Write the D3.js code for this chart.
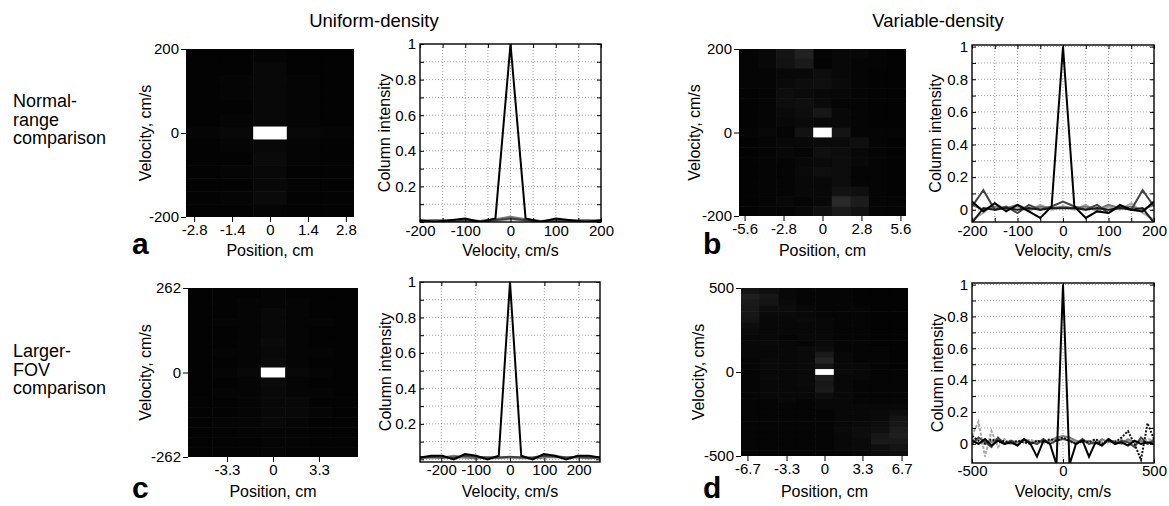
<!DOCTYPE html>
<html><head><meta charset="utf-8">
<script src="https://cdn.jsdelivr.net/npm/d3@7"></script>
<style>
body{margin:0;background:#fff;}
svg{font-family:"Liberation Sans",Arial,Helvetica,sans-serif;}
</style></head><body>
<svg id="fig" width="1169" height="506"></svg>
<script>
// ---------------- DATA ----------------
const headings = ["Uniform-density", "Variable-density"];
const rowLabelsTop = ["Normal-", "range", "comparison"];
const rowLabelsBottom = ["Larger-", "FOV", "comparison"];
const panelLetters = ["a", "b", "c", "d"];

// image tick labels
const imgAXTicks = [-2.8, -1.4, 0, 1.4, 2.8];
const imgAYTicks = [-200, 0, 200];
const imgBXTicks = [-5.6, -2.8, 0, 2.8, 5.6];
const imgBYTicks = [-200, 0, 200];
const imgCXTicks = [-3.3, 0, 3.3];
const imgCYTicks = [-262, 0, 262];
const imgDXTicks = [-6.7, -3.3, 0, 3.3, 6.7];
const imgDYTicks = [-500, 0, 500];

// image intensities (rows: top = +velocity)
const imgA = [
 [0.01,0.01,0.02,0.01,0.01],
 [0.01,0.01,0.03,0.01,0.01],
 [0.01,0.02,0.03,0.02,0.01],
 [0.01,0.02,0.03,0.02,0.01],
 [0.01,0.01,0.03,0.02,0.01],
 [0.01,0.02,0.03,0.02,0.01],
 [0.02,0.03,1.00,0.03,0.02],
 [0.01,0.02,0.03,0.02,0.01],
 [0.01,0.01,0.04,0.02,0.01],
 [0.01,0.02,0.03,0.01,0.01],
 [0.01,0.01,0.03,0.02,0.01],
 [0.01,0.02,0.04,0.01,0.01],
 [0.01,0.01,0.02,0.01,0.01]];
const imgB = [
 [0.02,0.03,0.08,0.13,0.02,0.03,0.03,0.02,0.01],
 [0.02,0.03,0.07,0.10,0.01,0.03,0.02,0.02,0.01],
 [0.02,0.02,0.03,0.03,0.05,0.03,0.02,0.01,0.01],
 [0.02,0.02,0.04,0.05,0.06,0.04,0.02,0.01,0.01],
 [0.01,0.02,0.05,0.04,0.03,0.03,0.02,0.01,0.01],
 [0.01,0.02,0.05,0.06,0.04,0.02,0.02,0.01,0.01],
 [0.01,0.02,0.04,0.05,0.09,0.03,0.02,0.01,0.01],
 [0.01,0.02,0.03,0.04,0.03,0.03,0.02,0.01,0.01],
 [0.02,0.03,0.02,0.07,1.00,0.08,0.02,0.02,0.02],
 [0.01,0.02,0.03,0.03,0.04,0.04,0.06,0.02,0.01],
 [0.01,0.02,0.03,0.02,0.06,0.05,0.03,0.02,0.01],
 [0.01,0.02,0.02,0.03,0.04,0.05,0.03,0.02,0.01],
 [0.01,0.02,0.02,0.04,0.06,0.05,0.02,0.02,0.01],
 [0.01,0.02,0.02,0.03,0.03,0.05,0.02,0.02,0.01],
 [0.01,0.02,0.02,0.03,0.03,0.07,0.06,0.02,0.01],
 [0.01,0.02,0.03,0.02,0.03,0.16,0.11,0.02,0.02],
 [0.01,0.02,0.02,0.03,0.06,0.10,0.07,0.02,0.02]];
const imgC = [
 [0.01,0.01,0.01,0.02,0.01,0.01,0.01],
 [0.01,0.01,0.02,0.02,0.02,0.01,0.01],
 [0.01,0.01,0.02,0.03,0.02,0.01,0.01],
 [0.01,0.02,0.02,0.03,0.02,0.02,0.01],
 [0.01,0.01,0.02,0.03,0.02,0.01,0.01],
 [0.01,0.01,0.02,0.04,0.02,0.01,0.01],
 [0.01,0.02,0.02,0.03,0.02,0.02,0.01],
 [0.01,0.01,0.02,0.04,0.02,0.01,0.01],
 [0.01,0.02,0.03,1.00,0.03,0.02,0.01],
 [0.01,0.01,0.02,0.04,0.02,0.01,0.01],
 [0.01,0.02,0.02,0.03,0.02,0.02,0.01],
 [0.01,0.01,0.02,0.03,0.03,0.01,0.01],
 [0.01,0.01,0.02,0.03,0.03,0.02,0.01],
 [0.01,0.02,0.02,0.03,0.02,0.01,0.01],
 [0.01,0.01,0.02,0.02,0.02,0.01,0.01],
 [0.01,0.01,0.01,0.02,0.02,0.01,0.01],
 [0.01,0.01,0.01,0.02,0.01,0.01,0.01]];
const imgD = [
 [0.08,0.06,0.03,0.02,0.02,0.02,0.01,0.01,0.01],
 [0.12,0.09,0.03,0.02,0.02,0.02,0.01,0.01,0.01],
 [0.10,0.08,0.04,0.02,0.02,0.02,0.01,0.01,0.01],
 [0.09,0.05,0.05,0.03,0.02,0.02,0.02,0.01,0.01],
 [0.09,0.04,0.04,0.03,0.02,0.02,0.02,0.01,0.01],
 [0.08,0.03,0.03,0.04,0.03,0.02,0.02,0.01,0.01],
 [0.05,0.03,0.03,0.03,0.03,0.02,0.02,0.01,0.01],
 [0.04,0.03,0.03,0.03,0.03,0.02,0.02,0.01,0.01],
 [0.03,0.03,0.02,0.03,0.03,0.02,0.02,0.01,0.01],
 [0.03,0.04,0.03,0.02,0.04,0.02,0.02,0.01,0.01],
 [0.03,0.03,0.03,0.04,0.05,0.02,0.02,0.02,0.01],
 [0.03,0.03,0.03,0.04,0.10,0.03,0.02,0.02,0.01],
 [0.02,0.04,0.03,0.04,0.14,0.03,0.02,0.02,0.01],
 [0.02,0.04,0.03,0.04,0.08,0.03,0.03,0.02,0.01],
 [0.02,0.03,0.03,0.04,1.00,0.04,0.03,0.02,0.02],
 [0.02,0.04,0.03,0.04,0.11,0.03,0.03,0.02,0.02],
 [0.02,0.03,0.03,0.04,0.09,0.03,0.02,0.02,0.02],
 [0.02,0.03,0.03,0.03,0.10,0.03,0.02,0.02,0.02],
 [0.02,0.03,0.03,0.03,0.05,0.03,0.02,0.02,0.02],
 [0.02,0.02,0.03,0.02,0.03,0.03,0.02,0.02,0.02],
 [0.02,0.02,0.02,0.02,0.03,0.03,0.03,0.03,0.03],
 [0.02,0.02,0.02,0.02,0.02,0.03,0.03,0.04,0.05],
 [0.02,0.02,0.02,0.02,0.02,0.03,0.03,0.04,0.08],
 [0.02,0.02,0.02,0.02,0.02,0.03,0.04,0.05,0.09],
 [0.02,0.02,0.02,0.02,0.02,0.04,0.05,0.06,0.11],
 [0.02,0.02,0.02,0.02,0.02,0.03,0.05,0.09,0.12],
 [0.02,0.02,0.02,0.02,0.02,0.03,0.04,0.10,0.10],
 [0.02,0.02,0.02,0.02,0.02,0.03,0.04,0.06,0.08],
 [0.02,0.02,0.02,0.02,0.02,0.02,0.03,0.05,0.06]];

// column-intensity profiles
const velA = [-200,-166.7,-133.3,-100,-66.7,-33.3,0,33.3,66.7,100,133.3,166.7,200];
const profA1 = [0.01,0.00,0.01,0.02,0.00,0.02,1.00,0.02,0.00,0.02,0.01,0.00,0.01];
const profA2 = [0.005,0.01,0.005,0.01,0.005,0.01,0.02,0.01,0.005,0.01,0.005,0.01,0.005];
const profA3 = [0.01,0.005,0.01,0.005,0.005,0.015,0.03,0.015,0.005,0.005,0.01,0.005,0.01];
const profA4 = [0.005,0.005,0.01,0.01,0.005,0.005,0.015,0.005,0.005,0.01,0.01,0.005,0.005];

const velB = [-200,-175,-150,-125,-100,-75,-50,-25,0,25,50,75,100,125,150,175,200];
const profB1 = [0.05,-0.01,0.04,-0.01,0.03,-0.01,-0.05,0.02,1.00,0.02,-0.05,-0.01,-0.02,0.03,0.00,-0.01,0.05];
const profB2 = [0.02,0.12,0.00,0.02,-0.02,0.03,0.00,0.02,0.05,0.02,0.00,0.03,-0.02,0.02,0.00,0.12,0.02];
const profB3 = [0.03,0.00,0.02,0.01,0.03,0.00,0.02,0.01,0.02,0.01,0.02,0.00,0.03,0.01,0.02,0.00,0.03];
const profB4 = [-0.06,-0.02,0.04,0.00,0.02,-0.01,0.03,0.00,0.02,0.00,0.03,-0.01,0.02,0.00,0.04,-0.02,-0.06];
const profB5 = [-0.08,0.01,0.00,0.01,0.00,0.01,0.00,0.01,0.01,0.01,0.00,0.01,0.00,0.01,0.00,0.01,-0.08];

const velC = [-262,-229.25,-196.5,-163.75,-131,-98.25,-65.5,-32.75,0,32.75,65.5,98.25,131,163.75,196.5,229.25,262];
const profC1 = [0.01,0.02,0.02,0.00,0.03,0.02,0.00,0.02,1.00,0.02,0.00,0.03,0.02,0.00,0.02,0.02,0.01];
const profC2 = [0.01,0.015,0.01,0.01,0.02,0.015,0.01,0.01,0.015,0.01,0.01,0.02,0.015,0.01,0.015,0.01,0.01];
const profC3 = [0.005,0.01,0.01,0.02,0.01,0.005,0.01,0.01,0.01,0.01,0.005,0.01,0.02,0.01,0.01,0.005,0.01];
const profC4 = [0.01,0.005,0.01,0.005,0.01,0.01,0.005,0.005,0.01,0.005,0.005,0.01,0.01,0.005,0.01,0.01,0.005];

const velD = [-500,-464.3,-428.6,-392.9,-357.1,-321.4,-285.7,-250,-214.3,-178.6,-142.9,-107.1,-71.4,-35.7,0,35.7,71.4,107.1,142.9,178.6,214.3,250,285.7,321.4,357.1,392.9,428.6,464.3,500];
const profD1 = [0.02,0.00,0.03,-0.01,0.02,0.00,0.01,-0.01,0.03,0.00,-0.08,0.02,0.00,-0.13,1.00,-0.13,0.00,0.02,-0.08,0.01,-0.01,0.03,0.00,0.01,-0.01,0.02,0.00,0.01,0.00];
const profD2 = [0.05,0.02,0.00,0.03,0.01,0.02,0.00,0.02,0.01,0.00,0.02,0.01,0.03,0.02,0.04,0.02,0.00,0.02,0.01,0.03,0.00,0.02,0.01,0.04,0.08,0.00,-0.10,0.13,0.03];
const profD3 = [0.05,0.14,-0.08,0.08,-0.02,0.03,0.00,0.02,0.01,0.03,0.00,0.02,0.01,0.03,0.04,0.03,0.01,0.02,0.00,0.03,0.01,0.02,0.00,0.03,0.01,0.02,0.00,0.03,0.02];
const profD4 = [0.03,0.00,0.02,0.01,0.03,0.00,0.02,0.01,0.03,0.00,0.02,0.01,0.02,0.04,0.05,0.04,0.02,0.01,0.02,0.00,0.03,0.01,0.02,0.00,0.03,0.01,0.02,0.00,0.03];
const profD5 = [0.00,0.04,0.01,-0.02,0.04,0.00,0.02,-0.01,0.03,0.01,0.00,0.03,0.00,0.02,0.03,0.02,0.00,0.03,0.00,0.01,-0.01,0.03,0.00,0.02,0.01,-0.02,0.04,0.00,0.02];

// line-plot ticks
const lineABXTicks = [-200,-150,-100,-50,0,50,100,150,200];
const lineABXLabels = [-200,-100,0,100,200];
const lineCXTicks = [-200,-100,0,100,200];
const lineCXLabels = [-200,-100,0,100,200];
const lineDXTicks = [-500,0,500];
const lineDXLabels = [-500,0,500];
const lineYTicks = [0,0.1,0.2,0.3,0.4,0.5,0.6,0.7,0.8,0.9,1];
const lineYLabelsAC = [0.2,0.4,0.6,0.8,1];
const lineYLabelsBD = [0,0.2,0.4,0.6,0.8,1];

// ---------------- DRAWING ----------------
const svg = d3.select("#fig");
const defs = svg.append("defs");
const FONT = "'Liberation Sans', Arial, Helvetica, sans-serif";
const TICK_FS = 15, TITLE_FS = 16;

function styleAxis(g) {
  g.attr("font-family", FONT).attr("font-size", TICK_FS);
  g.selectAll("text").attr("fill", "#000");
  g.selectAll("line").attr("stroke", "#000");
}

function drawImage(p) {
  const g = svg.append("g");
  const nr = p.m.length, nc = p.m[0].length;
  const xb = d3.scaleBand().domain(d3.range(nc)).range([p.x0, p.x1]);
  const yb = d3.scaleBand().domain(d3.range(nr)).range([p.y0, p.y1]);
  const cid = "iclip" + p.id;
  defs.append("clipPath").attr("id", cid).append("rect")
    .attr("x", p.x0).attr("y", p.y0).attr("width", p.x1 - p.x0).attr("height", p.y1 - p.y0);
  const cells = [];
  p.m.forEach((row, i) => row.forEach((v, j) => cells.push({i, j, v})));
  g.append("g").attr("clip-path", `url(#${cid})`).selectAll("rect").data(cells).join("rect")
    .attr("x", d => xb(d.j)).attr("y", d => yb(d.i))
    .attr("width", xb.bandwidth() + 0.6).attr("height", yb.bandwidth() + 0.6)
    .attr("fill", d => { const c = Math.round(Math.min(1, d.v) * 255); return d3.rgb(c, c, c); });
  const xl = d3.scaleLinear().domain([-p.xHalf, p.xHalf]).range([p.x0, p.x1]);
  const yl = d3.scaleLinear().domain([-p.vMax, p.vMax]).range([p.y1, p.y0]);
  const ax = g.append("g").attr("transform", `translate(0,${p.y1})`)
    .call(d3.axisBottom(xl).tickValues(p.xTicks).tickFormat(d => String(d)).tickSize(5).tickSizeOuter(0).tickPadding(2));
  ax.select(".domain").remove();
  styleAxis(ax);
  const ay = g.append("g").attr("transform", `translate(${p.x0},0)`)
    .call(d3.axisLeft(yl).tickValues(p.yTicks).tickFormat(d => String(d)).tickSize(5).tickSizeOuter(0).tickPadding(2));
  ay.select(".domain").remove();
  styleAxis(ay);
  g.append("text").attr("x", (p.x0 + p.x1) / 2).attr("y", p.titleY).attr("text-anchor", "middle")
    .attr("font-family", FONT).attr("font-size", TITLE_FS).text("Position, cm");
  g.append("text").attr("transform", `translate(${p.yTitleX},${(p.y0 + p.y1) / 2}) rotate(-90)`)
    .attr("text-anchor", "middle").attr("font-family", FONT).attr("font-size", TITLE_FS).text("Velocity, cm/s");
}

function drawLine(p) {
  const g = svg.append("g");
  const x = d3.scaleLinear().domain(p.xDomain).range([p.x0, p.x1]);
  const y = d3.scaleLinear().domain(p.yDomain).range([p.y1, p.y0]);
  g.append("rect").attr("x", p.x0).attr("y", p.y0).attr("width", p.x1 - p.x0).attr("height", p.y1 - p.y0).attr("fill", "#fff");
  const vg = p.xTicks.filter(d => d > p.xDomain[0] && d < p.xDomain[1]);
  g.selectAll(".vg").data(vg).join("line").attr("class", "vg")
    .attr("x1", d => x(d)).attr("x2", d => x(d)).attr("y1", p.y0).attr("y2", p.y1)
    .attr("stroke", "#8a8a8a").attr("stroke-width", 0.8).attr("stroke-dasharray", "1,2");
  const hg = lineYTicks.filter(d => d > p.yDomain[0] && d < p.yDomain[1]);
  g.selectAll(".hg").data(hg).join("line").attr("class", "hg")
    .attr("x1", p.x0).attr("x2", p.x1).attr("y1", d => y(d)).attr("y2", d => y(d))
    .attr("stroke", "#8a8a8a").attr("stroke-width", 0.8).attr("stroke-dasharray", "1,2");
  const cid = "lclip" + p.id;
  defs.append("clipPath").attr("id", cid).append("rect")
    .attr("x", p.x0).attr("y", p.y0).attr("width", p.x1 - p.x0).attr("height", p.y1 - p.y0);
  const lg = g.append("g").attr("clip-path", `url(#${cid})`);
  p.series.forEach(s => {
    const line = d3.line().x((d, i) => x(p.vel[i])).y(d => y(d));
    lg.append("path").attr("d", line(s.v)).attr("fill", "none").attr("stroke", s.c)
      .attr("stroke-width", s.w || 2).attr("stroke-linejoin", "miter")
      .attr("stroke-dasharray", s.dash || null);
  });
  g.append("rect").attr("x", p.x0).attr("y", p.y0).attr("width", p.x1 - p.x0).attr("height", p.y1 - p.y0)
    .attr("fill", "none").attr("stroke", "#000").attr("stroke-width", 1.4);
  const yt = lineYTicks.filter(d => d >= p.yDomain[0] && d <= p.yDomain[1]);
  const fmtX = d => p.xLabels.includes(d) ? String(d) : "";
  const fmtY = d => p.yLabels.includes(d) ? String(d) : "";
  const ab = g.append("g").attr("transform", `translate(0,${p.y1})`)
    .call(d3.axisBottom(x).tickValues(p.xTicks).tickFormat(fmtX).tickSizeInner(-4).tickSizeOuter(0).tickPadding(p.xPad));
  const at = g.append("g").attr("transform", `translate(0,${p.y0})`)
    .call(d3.axisTop(x).tickValues(p.xTicks).tickFormat("").tickSizeInner(-4).tickSizeOuter(0));
  const al = g.append("g").attr("transform", `translate(${p.x0},0)`)
    .call(d3.axisLeft(y).tickValues(yt).tickFormat(fmtY).tickSizeInner(-4).tickSizeOuter(0).tickPadding(4));
  const ar = g.append("g").attr("transform", `translate(${p.x1},0)`)
    .call(d3.axisRight(y).tickValues(yt).tickFormat("").tickSizeInner(-4).tickSizeOuter(0));
  [ab, at, al, ar].forEach(a => { a.select(".domain").remove(); styleAxis(a); });
  g.append("text").attr("x", (p.x0 + p.x1) / 2).attr("y", p.titleY).attr("text-anchor", "middle")
    .attr("font-family", FONT).attr("font-size", TITLE_FS).text("Velocity, cm/s");
  g.append("text").attr("transform", `translate(${p.yTitleX},${(p.y0 + p.y1) / 2}) rotate(-90)`)
    .attr("text-anchor", "middle").attr("font-family", FONT).attr("font-size", TITLE_FS).text("Column intensity");
}

// headings
svg.selectAll(".head").data(headings).join("text").attr("class", "head")
  .attr("x", (d, i) => [374, 938][i]).attr("y", 27).attr("text-anchor", "middle")
  .attr("font-family", FONT).attr("font-size", 18.5).text(d => d);

// row labels (one multi-line text each)
function rowLabel(lines, y0) {
  const t = svg.append("text").attr("x", 13).attr("y", y0)
    .attr("font-family", FONT).attr("font-size", 18);
  t.selectAll("tspan").data(lines).join("tspan")
    .attr("x", 13).attr("dy", (d, i) => i === 0 ? 0 : 18.5).text(d => d);
}
rowLabel(rowLabelsTop, 107);
rowLabel(rowLabelsBottom, 357);

// panel letters
svg.selectAll(".letter").data(panelLetters).join("text").attr("class", "letter")
  .attr("x", (d, i) => [132, 703, 132, 703][i]).attr("y", (d, i) => [254, 254, 498, 498][i])
  .attr("font-family", FONT).attr("font-weight", "bold").attr("font-size", 30).text(d => d);

// images
drawImage({id: "a", m: imgA, x0: 186, x1: 354, y0: 49, y1: 217, xHalf: 3.1, vMax: 200, xTicks: imgAXTicks, yTicks: imgAYTicks, titleY: 256, yTitleX: 151});
drawImage({id: "b", m: imgB, x0: 739, x1: 906, y0: 49, y1: 216, xHalf: 6.0, vMax: 200, xTicks: imgBXTicks, yTicks: imgBYTicks, titleY: 256, yTitleX: 700});
drawImage({id: "c", m: imgC, x0: 188, x1: 358, y0: 288, y1: 457, xHalf: 6.1, vMax: 262, xTicks: imgCXTicks, yTicks: imgCYTicks, titleY: 497, yTitleX: 151});
drawImage({id: "d", m: imgD, x0: 741, x1: 908, y0: 288, y1: 456, xHalf: 7.26, vMax: 500, xTicks: imgDXTicks, yTicks: imgDYTicks, titleY: 497, yTitleX: 704});

// line plots
drawLine({id: "a", x0: 420, x1: 601, y0: 44, y1: 222, xDomain: [-200, 200], yDomain: [0, 1], vel: velA,
  xTicks: lineABXTicks, xLabels: lineABXLabels, yLabels: lineYLabelsAC, xPad: 3, titleY: 256, yTitleX: 390,
  series: [{v: profA4, c: "#b0b0b0"}, {v: profA3, c: "#7a7a7a"}, {v: profA2, c: "#404040"}, {v: profA1, c: "#000"}]});
drawLine({id: "b", x0: 972, x1: 1154, y0: 45, y1: 222, xDomain: [-200, 200], yDomain: [-0.075, 1.01], vel: velB,
  xTicks: lineABXTicks, xLabels: lineABXLabels, yLabels: lineYLabelsBD, xPad: 3, titleY: 256, yTitleX: 941,
  series: [{v: profB4, c: "#aaaaaa"}, {v: profB3, c: "#777"}, {v: profB2, c: "#444"}, {v: profB5, c: "#1a1a1a"}, {v: profB1, c: "#000"}]});
drawLine({id: "c", x0: 420, x1: 600, y0: 282, y1: 462, xDomain: [-262, 262], yDomain: [-0.015, 1], vel: velC,
  xTicks: lineCXTicks, xLabels: lineCXLabels, yLabels: lineYLabelsAC, xPad: 2.5, titleY: 497, yTitleX: 391,
  series: [{v: profC4, c: "#b0b0b0"}, {v: profC3, c: "#7a7a7a"}, {v: profC2, c: "#404040"}, {v: profC1, c: "#000"}]});
drawLine({id: "d", x0: 972, x1: 1154, y0: 283, y1: 463, xDomain: [-500, 500], yDomain: [-0.12, 1.01], vel: velD,
  xTicks: lineDXTicks, xLabels: lineDXLabels, yLabels: lineYLabelsBD, xPad: 2.5, titleY: 497, yTitleX: 943,
  series: [{v: profD3, c: "#aaaaaa", dash: "3,1.5"}, {v: profD4, c: "#808080"}, {v: profD5, c: "#444"},
           {v: profD2, c: "#111", dash: "2,1.5"}, {v: profD1, c: "#000"}]});
</script>
</body></html>
